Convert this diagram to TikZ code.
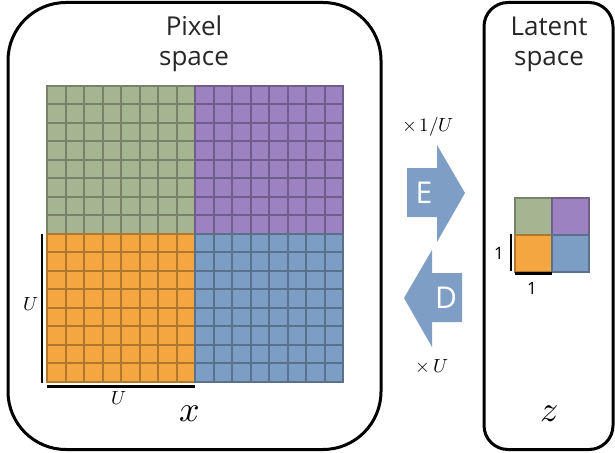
\documentclass[tikz,border=0pt]{standalone}
\usepackage{unicode-math}
\setmainfont{Open Sans}
\setmathfont{Latin Modern Math}
\definecolor{cgreen}{HTML}{A5B592}
\definecolor{cpurple}{HTML}{9C82C0}
\definecolor{corange}{HTML}{F4A640}
\definecolor{cblue}{HTML}{7C9DC4}
\definecolor{carrow}{HTML}{7F9EC5}
\newcommand\cellquad[4]{%
  \foreach \i in {0,...,#4}{\foreach \j in {0,...,#4}{%
    \draw[fill=#3, draw=#3!72!black, line width=2pt] ({#1+\i*18.5},{#2+\j*18.5}) rectangle ++(18.5,18.5);}}}
\begin{document}
\begin{tikzpicture}[x=1pt,y=-1pt,
  spacebox/.style={draw=black, line width=3pt, rectangle},
  title/.style={font=\fontsize{26}{30}\selectfont, align=center, text=black!85},
  bar/.style={line width=2.5pt},
  mlabel/.style={font=\fontsize{19}{22}\selectfont},
  nlabel/.style={font=\fontsize{17}{20}\selectfont},
  biglabel/.style={font=\fontsize{36}{40}\selectfont},
  letter/.style={text=white, font=\fontsize{30}{34}\selectfont}]
\useasboundingbox (0,0) rectangle (615,452);
% boxes
\node[spacebox, rounded corners=58pt, minimum width=373pt, minimum height=447pt] (pix) at (194.5,226) {};
\node[spacebox, rounded corners=24pt, minimum width=129pt, minimum height=447pt] (lat) at (548.5,226) {};
\node[title] (pixt) at (194,44) {Pixel\\space};
\node[title] (latt) at (549,44) {Latent\\space};
% big grid
\cellquad{47}{85.5}{cgreen}{7}
\cellquad{195}{85.5}{cpurple}{7}
\cellquad{47}{233.5}{corange}{7}
\cellquad{195}{233.5}{cblue}{7}
% measurement bars
\coordinate (vb1) at (42,234);
\coordinate (vb2) at (42,383);
\coordinate (hb1) at (47,386.5);
\coordinate (hb2) at (195,386.5);
\draw[bar] (vb1) -- (vb2);
\draw[bar] (hb1) -- (hb2);
\node[mlabel] (uv) at (31,304) {$U$};
\node[mlabel] (uh) at (119,398) {$U$};
\node[biglabel] (xl) at (190,414) {$x$};
% arrows
\fill[carrow] (407,168) -- (437,168) -- (437,145) -- (465,193) -- (437,242) -- (437,217) -- (407,217) -- cycle;
\node[letter] (E) at (424,193) {E};
\fill[carrow] (462,273) -- (432,273) -- (432,250) -- (404,298) -- (432,347) -- (432,322) -- (462,322) -- cycle;
\node[letter] (D) at (446,298) {D};
\node[mlabel] (enc) at (428,127) {$\times\,1/U$};
\node[mlabel] (dec) at (432,366) {$\times\,U$};
% small grid
\foreach \c/\px/\py in {cgreen/515/197.5, cpurple/552/197.5, corange/515/234.5, cblue/552/234.5}{
  \draw[fill=\c, draw=\c!72!black, line width=2pt] (\px,\py) rectangle ++(37,37);}
\coordinate (sv1) at (511,234);
\coordinate (sv2) at (511,271);
\coordinate (sh1) at (515,273.5);
\coordinate (sh2) at (552,273.5);
\draw[bar] (sv1) -- (sv2);
\draw[bar] (sh1) -- (sh2);
\node[nlabel] (one1) at (499,253) {1};
\node[nlabel] (one2) at (532,288) {1};
\node[biglabel] (zl) at (549,414) {$z$};
\end{tikzpicture}
\end{document}
